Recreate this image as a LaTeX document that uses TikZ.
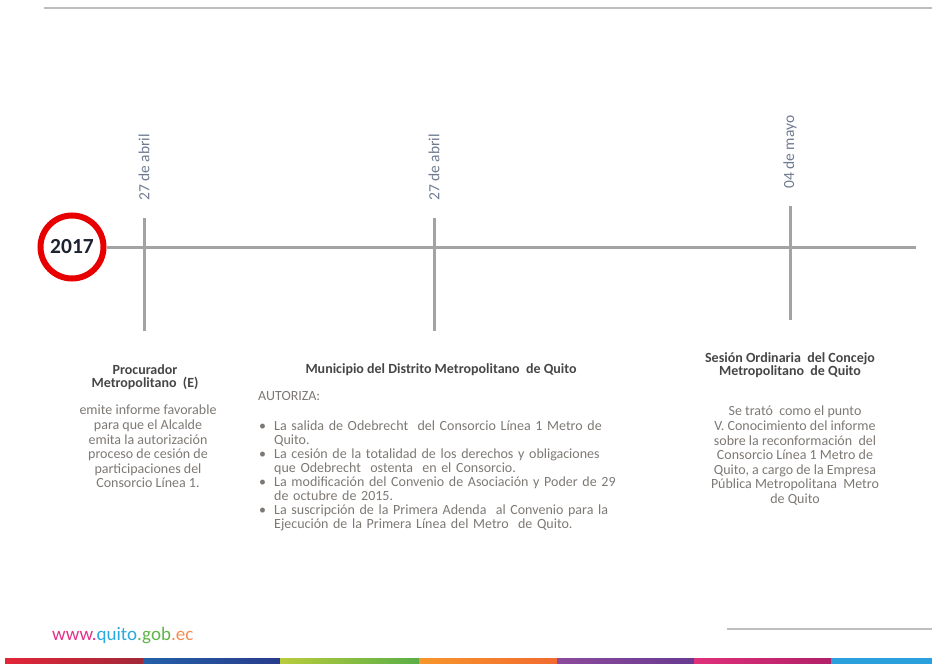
\documentclass[tikz,border=0pt]{standalone}
\usepackage{fontspec}
\setmainfont{Carlito}
\usepackage{enumitem}
\usetikzlibrary{shadows}
\definecolor{tlgray}{RGB}{163,163,163}
\definecolor{rulegray}{RGB}{190,190,190}
\definecolor{ringred}{RGB}{232,0,0}
\definecolor{yearcol}{RGB}{30,35,50}
\definecolor{datecol}{RGB}{110,122,145}
\definecolor{headcol}{RGB}{70,70,70}
\definecolor{bodycol}{RGB}{125,120,115}
\definecolor{webpink}{RGB}{228,49,138}
\definecolor{webblue}{RGB}{42,168,224}
\definecolor{webgreen}{RGB}{93,181,72}
\definecolor{weborange}{RGB}{245,140,80}
\definecolor{barredA}{RGB}{226,38,56}
\definecolor{barredB}{RGB}{160,40,56}
\definecolor{barblueA}{RGB}{36,96,168}
\definecolor{barblueB}{RGB}{40,60,140}
\definecolor{barlimeA}{RGB}{184,204,60}
\definecolor{barlimeB}{RGB}{90,174,72}
\definecolor{barorangeA}{RGB}{247,150,43}
\definecolor{barorangeB}{RGB}{242,106,48}
\definecolor{barpurpleA}{RGB}{140,74,156}
\definecolor{barpurpleB}{RGB}{104,58,144}
\definecolor{barpinkA}{RGB}{224,48,122}
\definecolor{barpinkB}{RGB}{176,32,104}
\definecolor{barsky}{RGB}{42,160,220}
\begin{document}
\begin{tikzpicture}[x=1pt,y=-1pt,
  every node/.style={inner sep=0pt},
  tl/.style={draw=tlgray, line width=3pt},
  datetxt/.style={rotate=90, anchor=west, text=datecol, font=\fontsize{15.5}{17}\selectfont},
  headtxt/.style={align=center, anchor=north, text=headcol, font=\bfseries\fontsize{14}{13.5}\selectfont},
  bodytxt/.style={align=center, anchor=north, text=bodycol, font=\fontsize{14}{14.6}\selectfont}]
\useasboundingbox (0,0) rectangle (932,664);
\draw [rulegray, line width=2pt] (44,8) -- (932,8);
\node [circle, draw=ringred, line width=6pt, fill=white, minimum size=63pt,
  drop shadow={opacity=0.25, shadow xshift=1.5pt, shadow yshift=-1.5pt},
  text=yearcol, font=\bfseries\fontsize{21.5}{24}\selectfont] (y2017) at (72,247) {2017};
\coordinate (tlend) at (916,247);
\draw [tl] (y2017.east) -- (tlend);
\coordinate (t1a) at (144,218);
\coordinate (t1b) at (144,331);
\coordinate (t2a) at (434,218);
\coordinate (t2b) at (434,331);
\coordinate (t3a) at (790,206);
\coordinate (t3b) at (790,320);
\draw [tl] (t1a) -- (t1b);
\draw [tl] (t2a) -- (t2b);
\draw [tl] (t3a) -- (t3b);
\node [datetxt] (d1) at (144,201) {27 de abril};
\node [datetxt] (d2) at (434,201) {27 de abril};
\node [datetxt] (d3) at (790,189) {04 de mayo};
\node [headtxt] (h1) at (145,364) {Procurador\\Metropolitano\ \ (E)};
\node [bodytxt] (b1) at (148,405) {emite informe favorable\\para que el Alcalde\\emita la autorización\\proceso de cesión de\\participaciones del\\Consorcio Línea 1.};
\node [headtxt] (h2) at (441,363) {Municipio del Distrito Metropolitano\ \ de Quito};
\node [bodytxt, anchor=west] (aut) at (258,396) {AUTORIZA:};
\node [bodytxt, align=left, anchor=north west, text width=390pt, font=\fontsize{14}{13.5}\selectfont] (autlist) at (250,417) {%
\begin{itemize}[leftmargin=24pt, labelsep=8pt, itemsep=1pt, topsep=0pt, parsep=0pt, partopsep=0pt]
\item La salida de Odebrecht\ \ del Consorcio Línea 1 Metro de\newline Quito.
\item La cesión de la totalidad de los derechos y obligaciones\newline que Odebrecht\ \ ostenta\ \ en el Consorcio.
\item La modificación del Convenio de Asociación y Poder de 29\newline de octubre de 2015.
\item La suscripción de la Primera Adenda\ \ al Convenio para la\newline Ejecución de la Primera Línea del Metro\ \ de Quito.
\end{itemize}};
\node [headtxt] (h3) at (790,352) {Sesión Ordinaria\ \ del Concejo\\Metropolitano\ \ de Quito};
\node [bodytxt] (b3) at (795,406) {Se trató\ \ como el punto\\V. Conocimiento del informe\\sobre la reconformación\ \ del\\Consorcio Línea 1 Metro de\\Quito, a cargo de la Empresa\\Pública Metropolitana\ \ Metro\\de Quito};
\node [anchor=west, font=\fontsize{19}{20}\selectfont] (web) at (52,636) {\textcolor{webpink}{www.}\textcolor{webblue}{quito}\textcolor{webgreen}{.gob}\textcolor{weborange}{.ec}};
\draw [rulegray, line width=2pt] (727,629) -- (932,629);
\shade [left color=barredA, right color=barredB] (5,658) rectangle (143,664);
\shade [left color=barblueA, right color=barblueB] (143,658) rectangle (280,664);
\shade [left color=barlimeA, right color=barlimeB] (280,658) rectangle (419,664);
\shade [left color=barorangeA, right color=barorangeB] (419,658) rectangle (557,664);
\shade [left color=barpurpleA, right color=barpurpleB] (557,658) rectangle (694,664);
\shade [left color=barpinkA, right color=barpinkB] (694,658) rectangle (831,664);
\fill [barsky] (831,658) rectangle (932,664);
\end{tikzpicture}
\end{document}
